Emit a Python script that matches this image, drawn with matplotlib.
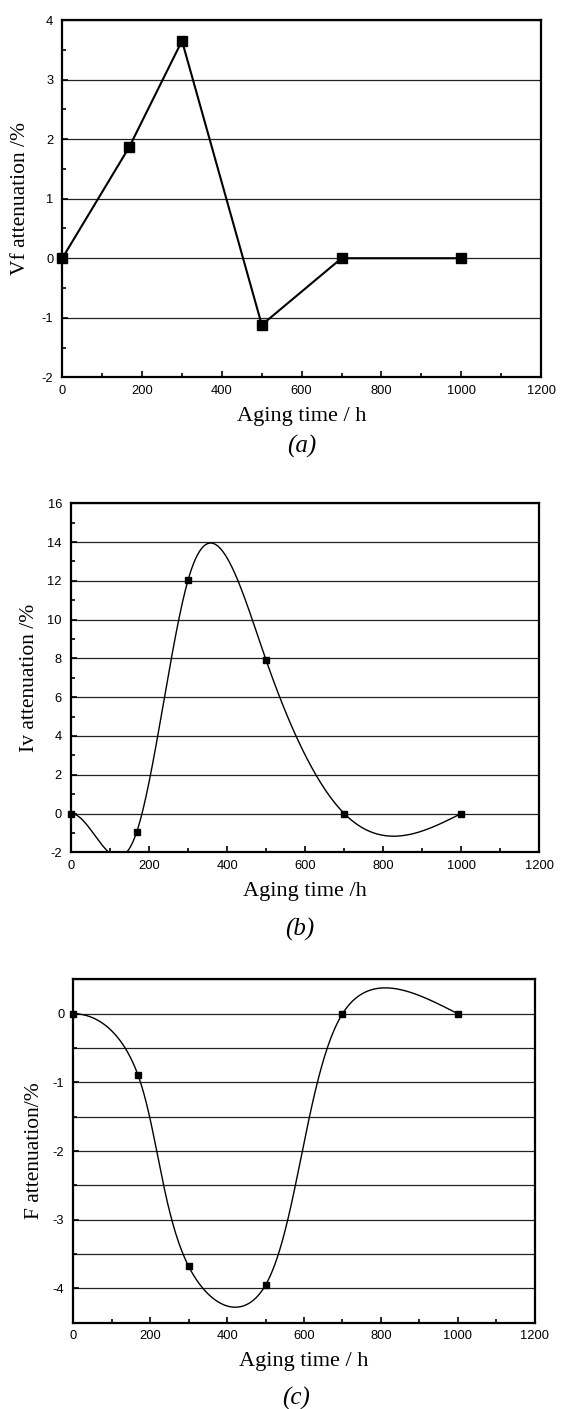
import numpy as np
import matplotlib.pyplot as plt
from matplotlib.ticker import MultipleLocator

plt.rcParams["axes.unicode_minus"] = False

# data
aging_hours = [0, 168, 300, 500, 700, 1000]
vf_atten = [0, 1.87, 3.65, -1.12, 0, 0]
iv_atten = [0, -0.97, 12.05, 7.9, 0, 0]
f_atten = [0, -0.89, -3.68, -3.95, 0, 0]

SERIF = "Liberation Serif"
SANS = "Liberation Sans"
FIG_W, FIG_H = 561, 1409


def cubic_spline(x, y, xs, start_slope=None):
    # cubic spline; natural ends unless a start slope is given
    x = np.asarray(x, float)
    y = np.asarray(y, float)
    n = len(x)
    h = np.diff(x)
    A = np.zeros((n, n))
    b = np.zeros(n)
    for i in range(1, n - 1):
        A[i, i - 1] = h[i - 1]
        A[i, i] = 2 * (h[i - 1] + h[i])
        A[i, i + 1] = h[i]
        b[i] = 6 * ((y[i + 1] - y[i]) / h[i] - (y[i] - y[i - 1]) / h[i - 1])
    if start_slope is None:
        A[0, 0] = 1
    else:
        A[0, 0], A[0, 1] = 2 * h[0], h[0]
        b[0] = 6 * ((y[1] - y[0]) / h[0] - start_slope)
    A[-1, -1] = 1
    M = np.linalg.solve(A, b)
    idx = np.clip(np.searchsorted(x, xs) - 1, 0, n - 2)
    x0, x1 = x[idx], x[idx + 1]
    hh = x1 - x0
    t0, t1 = x1 - xs, xs - x0
    return (M[idx] * t0**3 / (6 * hh) + M[idx + 1] * t1**3 / (6 * hh)
            + (y[idx] / hh - M[idx] * hh / 6) * t0
            + (y[idx + 1] / hh - M[idx + 1] * hh / 6) * t1)


def screen_spline(ax, x, y, alpha=0.25, n=1500):
    # parametric spline in screen space (chord length ** alpha)
    bb = ax.get_position()
    xl, yl = ax.get_xlim(), ax.get_ylim()
    sx = bb.width * FIG_W / (xl[1] - xl[0])
    sy = bb.height * FIG_H / (yl[1] - yl[0])
    x = np.asarray(x, float)
    y = np.asarray(y, float)
    d = np.hypot(np.diff(x) * sx, np.diff(y) * sy) ** alpha
    t = np.concatenate([[0], np.cumsum(d)])
    ts = np.linspace(0, t[-1], n)
    return cubic_spline(t, x, ts), cubic_spline(t, y, ts, start_slope=0)


def style_axes(ax, ylim, ymajor, yminor, ylabel, xlabel, label_x,
               grid_minor=False):
    ax.set_xlim(0, 1200)
    ax.set_ylim(*ylim)
    ax.xaxis.set_major_locator(MultipleLocator(200))
    ax.xaxis.set_minor_locator(MultipleLocator(100))
    ax.yaxis.set_major_locator(MultipleLocator(ymajor))
    ax.yaxis.set_minor_locator(MultipleLocator(yminor))
    ax.tick_params(which="both", direction="in", top=False, right=False,
                   width=1.2)
    ax.tick_params(which="major", length=4.5, labelsize=9.3)
    ax.tick_params(which="minor", length=3)
    ax.tick_params(axis="x", which="major", pad=5.5)
    ax.tick_params(axis="y", which="major", pad=6.5)
    for lab in ax.get_xticklabels() + ax.get_yticklabels():
        lab.set_fontfamily(SANS)
    for s in ax.spines.values():
        s.set_linewidth(1.6)
    ax.yaxis.grid(True, which="major", color="#222222", linewidth=0.9)
    if grid_minor:
        ax.yaxis.grid(True, which="minor", color="#222222", linewidth=0.9)
    ax.set_axisbelow(True)
    ax.set_ylabel(ylabel, family=SERIF, fontsize=15.5)
    ax.yaxis.set_label_coords(label_x, 0.5)
    ax.set_xlabel(xlabel, family=SERIF, fontsize=16, labelpad=7)


def panel_tag(ax, text, y_px, dx_px=0):
    bb = ax.get_position()
    fig.text(bb.x0 + bb.width / 2 + dx_px / FIG_W, 1 - y_px / FIG_H, text,
             family=SERIF, style="italic", fontsize=18,
             ha="center", va="center")


fig = plt.figure(figsize=(FIG_W / 100, FIG_H / 100), dpi=100)

# (a) straight line segments
ax1 = fig.add_axes([0.1111, 0.7322, 0.8533, 0.2536])
style_axes(ax1, (-2, 4), 1, 0.5, "Vf attenuation /%", "Aging time / h",
           -0.0675)
ax1.plot(aging_hours, vf_atten, color="black", linewidth=1.5, marker="s",
         markersize=7, clip_on=False, zorder=3)
panel_tag(ax1, "(a)", 446)

# (b) smooth curve through the points
ax2 = fig.add_axes([0.1266, 0.3951, 0.8348, 0.2477])
style_axes(ax2, (-2, 16), 2, 1, "Iv attenuation /%", "Aging time /h",
           -0.0693)
xs = np.linspace(0, 1000, 1500)
ax2.plot(xs, cubic_spline(aging_hours, iv_atten, xs, start_slope=0),
         color="black", linewidth=1.0, zorder=3)
ax2.plot(aging_hours, iv_atten, "s", color="black", markersize=4.5,
         clip_on=False, zorder=4)
panel_tag(ax2, "(b)", 929, -5)

# (c) smooth curve through the points
ax3 = fig.add_axes([0.1307, 0.0612, 0.8225, 0.2437])
style_axes(ax3, (-4.5, 0.5), 1, 0.5, "F attenuation/%", "Aging time / h",
           -0.0635, grid_minor=True)
cx, cy = screen_spline(ax3, aging_hours, f_atten)
ax3.plot(cx, cy, color="black", linewidth=1.0, zorder=3)
ax3.plot(aging_hours, f_atten, "s", color="black", markersize=4.5,
         clip_on=False, zorder=4)
panel_tag(ax3, "(c)", 1398, -8)

fig.savefig("out.png", dpi=100)
